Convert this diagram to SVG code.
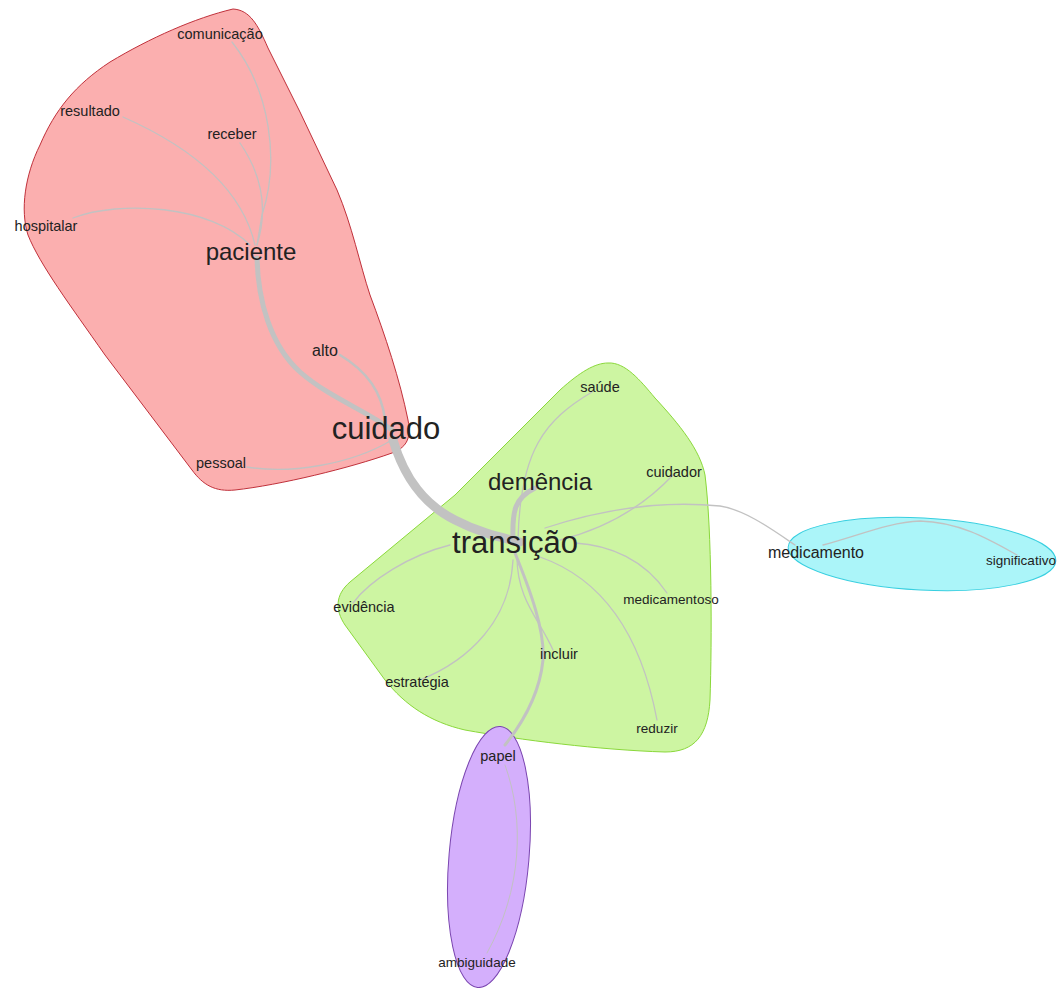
<svg xmlns="http://www.w3.org/2000/svg" width="1060" height="988" viewBox="0 0 1060 988">
<style>
.lbl{font-family:"Liberation Sans",Arial,sans-serif;fill:#222;text-anchor:middle}
.s{font-size:14.5px}
.xs{font-size:13.5px}
.m{font-size:16px}
.l{font-size:24px}
.xl{font-size:31px}
.e{fill:none;stroke:#c2c2c2;stroke-width:1.3;stroke-linecap:round}
</style>
<rect width="1060" height="988" fill="#ffffff"/>
<g id="regions">
<path id="region-red" d="M 233 9 C 250 10, 258 25, 268 48 L 300 112 L 337 190 C 352 225, 360 265, 370 295 C 385 335, 400 380, 408 420 C 412 440, 405 448, 392 453 C 350 468, 280 485, 235 490 C 215 492, 203 485, 192 470 L 105 355 C 70 305, 40 265, 28 235 C 20 210, 25 175, 40 145 C 55 110, 75 85, 110 62 C 150 38, 195 18, 233 9 Z" fill="#fbafaf" stroke="#c0303a" stroke-width="1"/>
<path id="region-green" d="M 608 363 C 625 362, 640 380, 655 398 C 680 425, 700 450, 705 475 C 712 530, 712 640, 710 700 C 708 735, 695 752, 665 752 C 600 750, 520 740, 465 730 C 430 722, 405 705, 385 680 L 345 625 C 335 610, 335 595, 350 582 L 455 495 L 560 390 C 580 372, 595 363, 608 363 Z" fill="#cdf5a2" stroke="#8ad83a" stroke-width="1"/>
<ellipse id="region-cyan" cx="922" cy="554" rx="134" ry="36" transform="rotate(3 922 554)" fill="#abf5f9" stroke="#38cfe0" stroke-width="1"/>
<ellipse id="region-purple" cx="489" cy="857" rx="40" ry="131" transform="rotate(5 489 857)" fill="#d4affc" stroke="#7a45b0" stroke-width="1"/>
</g>
<g id="connectors">
<path class="e" d="M 232 42 C 270 90, 280 160, 262 215 L 257 245"/>
<path class="e" d="M 240 143 C 262 175, 268 210, 257 245"/>
<path class="e" d="M 123 117 C 175 140, 240 180, 255 245"/>
<path class="e" d="M 73 218 C 120 200, 210 205, 250 245"/>
<path class="e" style="stroke-width:5" d="M 257 258 C 258 300, 270 345, 300 372 C 330 398, 365 410, 392 430"/>
<path class="e" style="stroke-width:2.5" d="M 340 355 C 365 370, 382 390, 385 420"/>
<path class="e" d="M 247 467 C 290 474, 350 465, 392 440"/>
<path class="e" style="stroke-width:9" d="M 393 440 C 405 480, 425 505, 455 520 C 480 533, 500 537, 520 542"/>
<path class="e" style="stroke-width:5" d="M 535 488 C 515 498, 512 510, 513 540"/>
<path class="e" d="M 592 392 C 545 420, 520 450, 518 540"/>
<path class="e" d="M 673 475 C 640 510, 600 530, 560 540"/>
<path class="e" d="M 545 528 C 600 510, 660 500, 720 506 C 745 510, 770 528, 795 545"/>
<path class="e" d="M 823 545 C 860 535, 890 522, 920 521 C 960 522, 990 540, 1017 555"/>
<path class="e" d="M 575 543 C 610 545, 645 560, 667 593"/>
<path class="e" d="M 540 557 C 600 578, 640 630, 657 720"/>
<path class="e" d="M 517 557 C 517 600, 540 620, 553 650"/>
<path class="e" style="stroke-width:3" d="M 515 553 C 530 590, 545 630, 543 660 C 540 690, 525 720, 505 745"/>
<path class="e" d="M 513 560 C 510 620, 470 660, 420 680"/>
<path class="e" d="M 450 545 C 410 555, 370 580, 353 603"/>
<path class="e" style="stroke-width:1" d="M 505 765 C 525 820, 522 890, 487 953"/>
</g>
<g id="n-comunicacao"><text class="lbl s" x="220" y="39">comunicação</text></g>
<g id="n-resultado"><text class="lbl s" x="90" y="116">resultado</text></g>
<g id="n-receber"><text class="lbl s" x="232" y="139">receber</text></g>
<g id="n-hospitalar"><text class="lbl s" x="46" y="231">hospitalar</text></g>
<g id="n-paciente"><text class="lbl l" x="251" y="260">paciente</text></g>
<g id="n-alto"><text class="lbl m" x="325" y="356">alto</text></g>
<g id="n-cuidado"><text class="lbl xl" x="386" y="439">cuidado</text></g>
<g id="n-pessoal"><text class="lbl s" x="221" y="468">pessoal</text></g>
<g id="n-saude"><text class="lbl s" x="600" y="392">saúde</text></g>
<g id="n-demencia"><text class="lbl l" x="540" y="490">demência</text></g>
<g id="n-cuidador"><text class="lbl s" x="674" y="477">cuidador</text></g>
<g id="n-transicao"><text class="lbl xl" x="515" y="553">transição</text></g>
<g id="n-evidencia"><text class="lbl s" x="364" y="612">evidência</text></g>
<g id="n-medicamentoso"><text class="lbl xs" x="671" y="604">medicamentoso</text></g>
<g id="n-incluir"><text class="lbl s" x="559" y="659">incluir</text></g>
<g id="n-estrategia"><text class="lbl s" x="417" y="687">estratégia</text></g>
<g id="n-reduzir"><text class="lbl xs" x="657" y="733">reduzir</text></g>
<g id="n-medicamento"><text class="lbl m" x="816" y="558">medicamento</text></g>
<g id="n-significativo"><text class="lbl xs" x="1021" y="565">significativo</text></g>
<g id="n-papel"><text class="lbl s" x="498" y="761">papel</text></g>
<g id="n-ambiguidade"><text class="lbl xs" x="477" y="967">ambiguidade</text></g>
</svg>
